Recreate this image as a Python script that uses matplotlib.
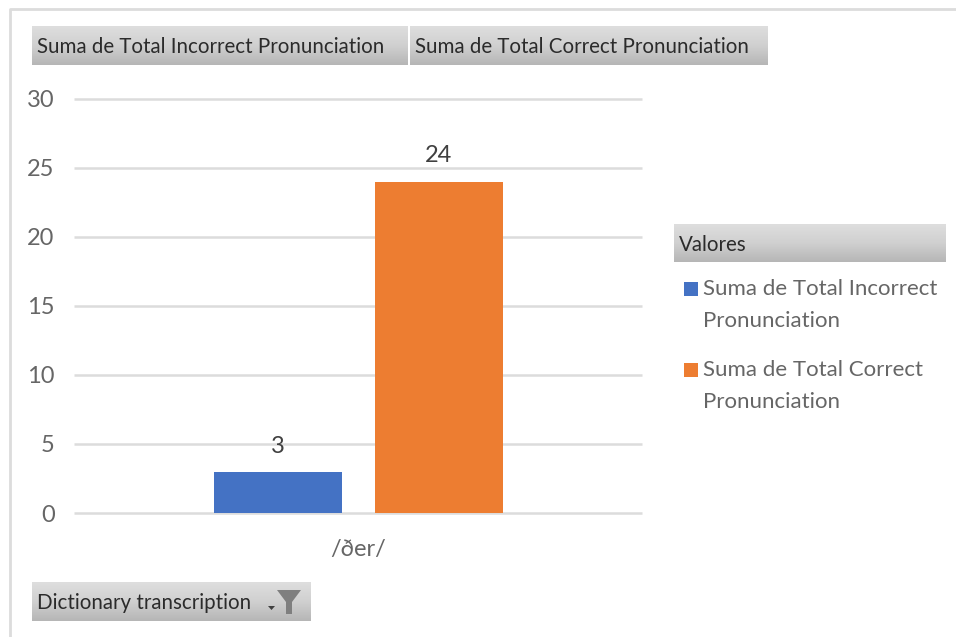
import numpy as np
import matplotlib
matplotlib.use("Agg")
import matplotlib.pyplot as plt
from matplotlib.patches import Rectangle

categories = ["/ðer/"]
series_names = ["Suma de Total Incorrect Pronunciation", "Suma de Total Correct Pronunciation"]
legend_labels = ["Suma de Total Incorrect\nPronunciation", "Suma de Total Correct\nPronunciation"]
incorrect = [3]
correct = [24]
yticks = [0, 5, 10, 15, 20, 25, 30]
colors = ["#4472C4", "#ED7D31"]
legend_title = "Valores"
filter_label = "Dictionary transcription"

W, H = 956, 637
plt.rcParams['font.family'] = ['Lato', 'DejaVu Sans']
fig = plt.figure(figsize=(W / 100, H / 100), dpi=100, facecolor="white")

bg = fig.add_axes([0, 0, 1, 1], zorder=0)
bg.set_xlim(0, W); bg.set_ylim(H, 0); bg.axis("off")
bg.plot([10, 10, 956], [637, 9, 9], color="#dcdcdc", lw=2, solid_capstyle="butt")

grad = np.linspace(0, 1, 64).reshape(-1, 1)
cmap = matplotlib.colors.LinearSegmentedColormap.from_list("b", ["#dedede", "#d0d0d0", "#b6b6b6"])
def button(x0, x1, y0, y1):
    bg.imshow(grad, extent=(x0, x1, y1, y0), cmap=cmap, aspect="auto", zorder=1)
    bg.set_xlim(0, W); bg.set_ylim(H, 0)

button(32, 408, 26, 65)
button(410, 768, 26, 65)
button(674, 946, 224, 262)
button(32, 311, 582, 621)

TXT = "#2b2b2b"
fs_btn = 14.8
bg.text(37, 47, series_names[0], fontsize=fs_btn, color=TXT, va="center", ha="left", zorder=3)
bg.text(415, 47, series_names[1], fontsize=fs_btn, color=TXT, va="center", ha="left", zorder=3)
bg.text(679, 245, legend_title, fontsize=fs_btn, color=TXT, va="center", ha="left", zorder=3)
bg.text(37, 603, filter_label, fontsize=fs_btn, color=TXT, va="center", ha="left", zorder=3)

bg.fill([277, 301, 292, 292, 286, 286], [590, 590, 602, 614, 614, 602], color="#7f7f7f", lw=0, zorder=3)
bg.fill([268, 275, 271.5], [606, 606, 610], color="#404040", lw=0, zorder=3)

left, right, top, bottom = 74, 642, 99, 513
ax = fig.add_axes([left / W, 1 - bottom / H, (right - left) / W, (bottom - top) / H], zorder=2)
ax.patch.set_alpha(0)
x = np.arange(len(categories))
bw = 128 / 568
gap = 33 / 568
b1 = ax.bar(x - (bw + gap) / 2, incorrect, bw, color=colors[0], zorder=3)
b2 = ax.bar(x + (bw + gap) / 2, correct, bw, color=colors[1], zorder=3)
ax.set_xlim(-0.5, 0.5)
ax.set_ylim(0, 30)
ax.set_yticks(yticks)
ax.set_xticks(x, categories)
ax.grid(axis="y", color="#dcdcdc", lw=1.8)
for ln in ax.get_ygridlines():
    ln.set_clip_on(False)
    ln.set_solid_capstyle("butt")
ax.set_axisbelow(True)
for s in ax.spines.values():
    s.set_visible(False)
ax.tick_params(length=0)
ax.tick_params(axis="y", labelsize=17, labelcolor="#666666", pad=14)
ax.tick_params(axis="x", labelsize=17, labelcolor="#666666", pad=19)
ax.bar_label(b1, padding=10.5, fontsize=17, color="#404040")
ax.bar_label(b2, padding=11.5, fontsize=17, color="#404040")

LEG = "#666666"
for (yc, yt), lab, c in zip([(289, 305), (370, 386)], legend_labels, colors):
    bg.add_patch(Rectangle((684, yc - 7), 14, 14, color=c, lw=0, zorder=3))
    bg.text(703, yt, lab, fontsize=16, color=LEG, va="center", ha="left", linespacing=1.7, zorder=3)

fig.savefig("out.png", dpi=100)
